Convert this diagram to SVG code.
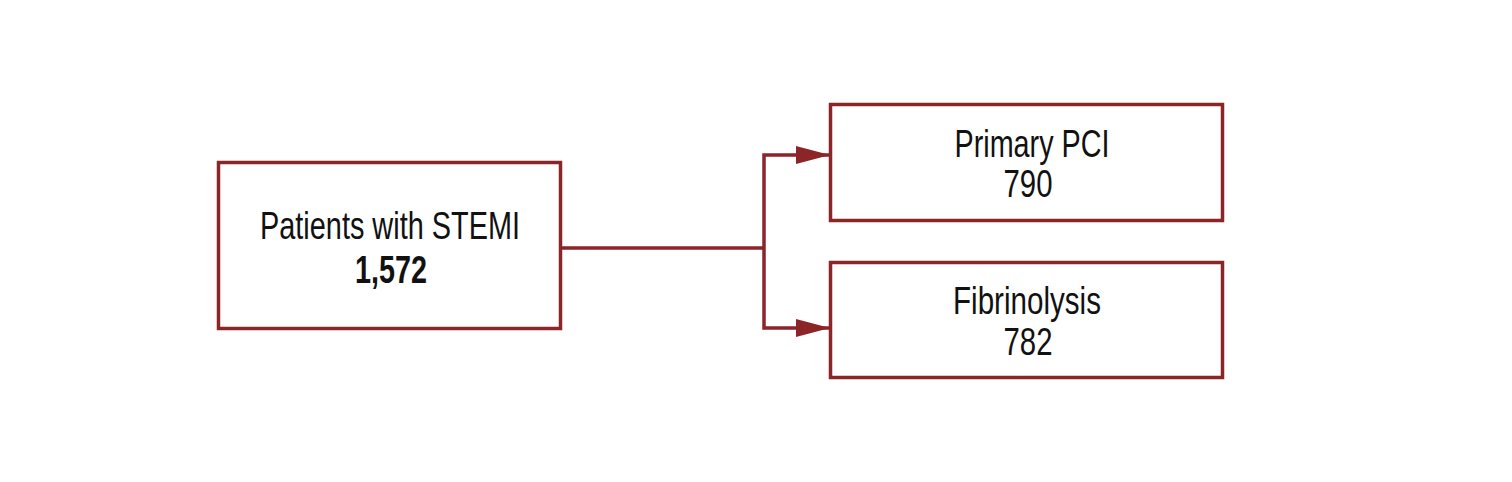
<svg xmlns="http://www.w3.org/2000/svg" width="1512" height="482" viewBox="0 0 1512 482">
<defs>
<style>
.box{fill:#fff;stroke:#8b2528;stroke-width:3.5}
.ln{fill:none;stroke:#8b2528;stroke-width:3.5}
.t{font-family:"Liberation Sans",Arial,sans-serif;font-size:38px;fill:#111;text-anchor:middle}
.b{font-weight:bold}
</style>
<marker id="ah" markerUnits="userSpaceOnUse" markerWidth="34" markerHeight="20" refX="33" refY="10" orient="auto">
<path d="M0,1 L34,10 L0,19 Z" fill="#8b2528"/>
</marker>
</defs>
<rect width="1512" height="482" fill="#fff"/>
<g id="connectors">
<path class="ln" d="M561,248 H764"/>
<path class="ln" d="M764,248 V155 H829" marker-end="url(#ah)"/>
<path class="ln" d="M764,248 V328 H829" marker-end="url(#ah)"/>
</g>
<g id="node-stemi">
<rect class="box" x="218.5" y="162.5" width="342" height="166"/>
<text class="t" x="390" y="239" textLength="260" lengthAdjust="spacingAndGlyphs">Patients with STEMI</text>
<text class="t b" x="391" y="283" textLength="72" lengthAdjust="spacingAndGlyphs">1,572</text>
</g>
<g id="node-pci">
<rect class="box" x="830.5" y="104.5" width="392" height="116"/>
<text class="t" x="1032" y="157" textLength="155" lengthAdjust="spacingAndGlyphs">Primary PCI</text>
<text class="t" x="1028" y="197" textLength="49" lengthAdjust="spacingAndGlyphs">790</text>
</g>
<g id="node-fib">
<rect class="box" x="830.5" y="262.5" width="392" height="115"/>
<text class="t" x="1027" y="314" textLength="148" lengthAdjust="spacingAndGlyphs">Fibrinolysis</text>
<text class="t" x="1028" y="355" textLength="49" lengthAdjust="spacingAndGlyphs">782</text>
</g>
</svg>
